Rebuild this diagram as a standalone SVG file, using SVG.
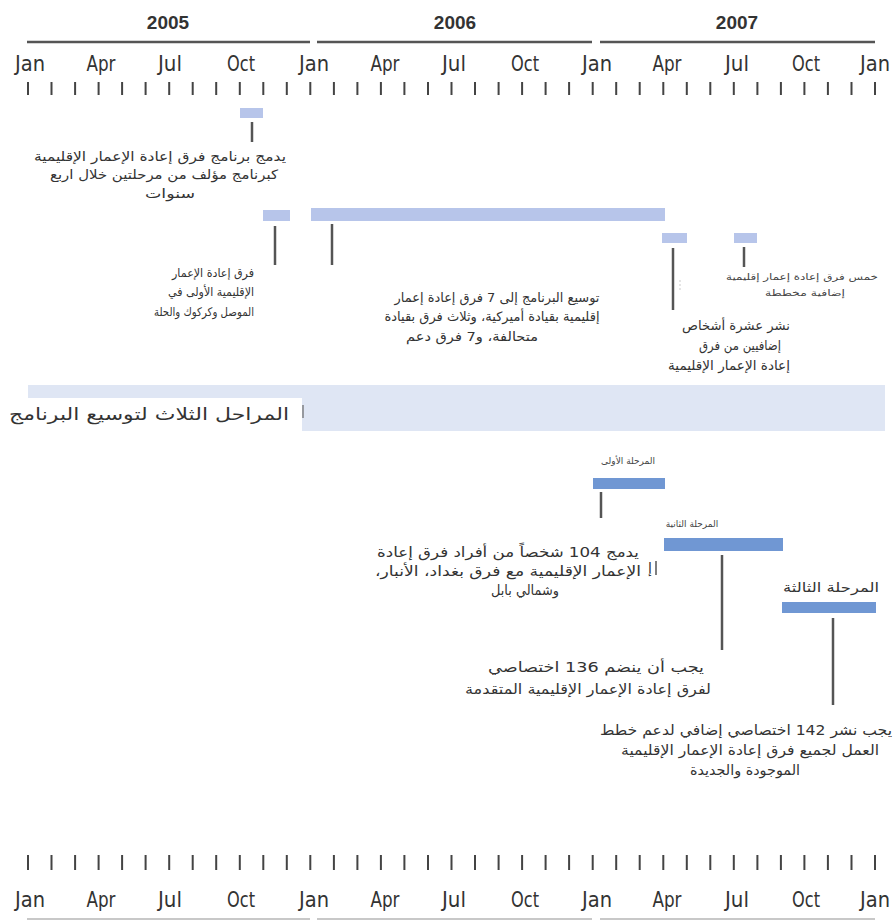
<svg xmlns="http://www.w3.org/2000/svg" width="895" height="920" viewBox="0 0 895 920">
<defs>
<style>
.yr{font-family:"Liberation Sans",Arial,sans-serif;font-weight:bold;font-size:19px;fill:#333;text-anchor:middle}
.mo{font-family:"Liberation Sans Narrow","DejaVu Sans Condensed","Liberation Sans",sans-serif;font-stretch:condensed;font-size:22px;fill:#333;text-anchor:middle}
.ar{font-family:"DejaVu Sans","Noto Sans",sans-serif;font-size:13px;fill:#333;text-anchor:middle;direction:rtl;unicode-bidi:embed}
.ars{font-family:"DejaVu Sans","Noto Sans",sans-serif;font-size:9px;fill:#444;text-anchor:middle;direction:rtl;unicode-bidi:embed}
.lt{fill:#b7c5ea}
.md{fill:#7097d3}
.ln{stroke:#555;stroke-width:2.5;fill:none}
.tk{stroke:#444;stroke-width:2;fill:none}
</style>
</defs>
<rect width="895" height="920" fill="#fff"/>

<g id="axis-top">
<text class="yr" x="168" y="29">2005</text>
<text class="yr" x="455" y="29">2006</text>
<text class="yr" x="737" y="29">2007</text>
<path class="ln" d="M27 42H310M317 42H592M600 42H875"/>
<text class="mo" x="30" y="71" textLength="30" lengthAdjust="spacingAndGlyphs">Jan</text>
<text class="mo" x="101" y="71" textLength="29" lengthAdjust="spacingAndGlyphs">Apr</text>
<text class="mo" x="170" y="71" textLength="24" lengthAdjust="spacingAndGlyphs">Jul</text>
<text class="mo" x="241" y="71" textLength="28" lengthAdjust="spacingAndGlyphs">Oct</text>
<text class="mo" x="314" y="71" textLength="30" lengthAdjust="spacingAndGlyphs">Jan</text>
<text class="mo" x="385" y="71" textLength="29" lengthAdjust="spacingAndGlyphs">Apr</text>
<text class="mo" x="454" y="71" textLength="24" lengthAdjust="spacingAndGlyphs">Jul</text>
<text class="mo" x="525" y="71" textLength="28" lengthAdjust="spacingAndGlyphs">Oct</text>
<text class="mo" x="597" y="71" textLength="30" lengthAdjust="spacingAndGlyphs">Jan</text>
<text class="mo" x="667" y="71" textLength="29" lengthAdjust="spacingAndGlyphs">Apr</text>
<text class="mo" x="737" y="71" textLength="24" lengthAdjust="spacingAndGlyphs">Jul</text>
<text class="mo" x="806" y="71" textLength="28" lengthAdjust="spacingAndGlyphs">Oct</text>
<text class="mo" x="875" y="71" textLength="30" lengthAdjust="spacingAndGlyphs">Jan</text>
<path class="tk" d="M28 82v13M51.5 82v13M75.1 82v13M98.6 82v13M122.1 82v13M145.6 82v13M169.2 82v13M192.7 82v13M216.2 82v13M239.8 82v13M263.3 82v13M286.8 82v13M310.3 82v13M333.9 82v13M357.4 82v13M380.9 82v13M404.4 82v13M428 82v13M451.5 82v13M475 82v13M498.6 82v13M522.1 82v13M545.6 82v13M569.1 82v13M592.7 82v13M616.2 82v13M639.7 82v13M663.3 82v13M686.8 82v13M710.3 82v13M733.8 82v13M757.4 82v13M780.9 82v13M804.4 82v13M827.9 82v13M851.5 82v13M875 82v13"/>
</g>

<g id="axis-bottom">
<path class="tk" d="M28 855v15M51.5 855v15M75.1 855v15M98.6 855v15M122.1 855v15M145.6 855v15M169.2 855v15M192.7 855v15M216.2 855v15M239.8 855v15M263.3 855v15M286.8 855v15M310.3 855v15M333.9 855v15M357.4 855v15M380.9 855v15M404.4 855v15M428 855v15M451.5 855v15M475 855v15M498.6 855v15M522.1 855v15M545.6 855v15M569.1 855v15M592.7 855v15M616.2 855v15M639.7 855v15M663.3 855v15M686.8 855v15M710.3 855v15M733.8 855v15M757.4 855v15M780.9 855v15M804.4 855v15M827.9 855v15M851.5 855v15M875 855v15"/>
<text class="mo" x="30" y="907" textLength="30" lengthAdjust="spacingAndGlyphs">Jan</text>
<text class="mo" x="101" y="907" textLength="29" lengthAdjust="spacingAndGlyphs">Apr</text>
<text class="mo" x="170" y="907" textLength="24" lengthAdjust="spacingAndGlyphs">Jul</text>
<text class="mo" x="241" y="907" textLength="28" lengthAdjust="spacingAndGlyphs">Oct</text>
<text class="mo" x="314" y="907" textLength="30" lengthAdjust="spacingAndGlyphs">Jan</text>
<text class="mo" x="385" y="907" textLength="29" lengthAdjust="spacingAndGlyphs">Apr</text>
<text class="mo" x="454" y="907" textLength="24" lengthAdjust="spacingAndGlyphs">Jul</text>
<text class="mo" x="525" y="907" textLength="28" lengthAdjust="spacingAndGlyphs">Oct</text>
<text class="mo" x="597" y="907" textLength="30" lengthAdjust="spacingAndGlyphs">Jan</text>
<text class="mo" x="667" y="907" textLength="29" lengthAdjust="spacingAndGlyphs">Apr</text>
<text class="mo" x="737" y="907" textLength="24" lengthAdjust="spacingAndGlyphs">Jul</text>
<text class="mo" x="806" y="907" textLength="28" lengthAdjust="spacingAndGlyphs">Oct</text>
<text class="mo" x="875" y="907" textLength="30" lengthAdjust="spacingAndGlyphs">Jan</text>
<path d="M27 919H310M317 919H592M600 919H875" stroke="#c8c8c8" stroke-width="2" fill="none"/>
</g>

<g id="band">
<rect x="28" y="385" width="857" height="46" fill="#dfe6f4"/>
<rect x="0" y="398" width="302" height="33" fill="#fff"/>
<path d="M303 405v13" stroke="#666" stroke-width="1.2"/>
<text class="ar" x="149" y="420" style="font-size:17px" textLength="280" lengthAdjust="spacingAndGlyphs">المراحل الثلاث لتوسيع البرنامج</text>
</g>

<g id="node-merge">
<rect class="lt" x="240" y="108" width="23" height="10"/>
<text class="ar" x="160" y="161" textLength="252" lengthAdjust="spacingAndGlyphs">يدمج برنامج فرق إعادة الإعمار الإقليمية</text>
<text class="ar" x="164" y="179" textLength="228" lengthAdjust="spacingAndGlyphs">كبرنامج مؤلف من مرحلتين خلال اربع</text>
<text class="ar" x="170" y="198" textLength="50" lengthAdjust="spacingAndGlyphs">سنوات</text>
</g>

<g id="node-first-prts">
<rect class="lt" x="263" y="210" width="27" height="11"/>
<text class="ar" x="213" y="277" style="font-size:12px" textLength="82" lengthAdjust="spacingAndGlyphs">فرق إعادة الإعمار</text>
<text class="ar" x="211" y="296" style="font-size:12px" textLength="86" lengthAdjust="spacingAndGlyphs">الإقليمية الأولى في</text>
<text class="ar" x="204" y="316" style="font-size:12px" textLength="100" lengthAdjust="spacingAndGlyphs">الموصل وكركوك والحلة</text>
</g>

<g id="node-expand">
<rect class="lt" x="311" y="208" width="354" height="13"/>
<text class="ar" x="497" y="302" textLength="205" lengthAdjust="spacingAndGlyphs">توسيع البرنامج إلى 7 فرق إعادة إعمار</text>
<text class="ar" x="492" y="321" textLength="215" lengthAdjust="spacingAndGlyphs">إقليمية بقيادة أميركية، وثلاث فرق بقيادة</text>
<text class="ar" x="472" y="341" textLength="132" lengthAdjust="spacingAndGlyphs">متحالفة، و7 فرق دعم</text>
</g>

<g id="node-ten">
<rect class="lt" x="662" y="233" width="25" height="10"/>
<text class="ar" x="736" y="330" textLength="108" lengthAdjust="spacingAndGlyphs">نشر عشرة أشخاص</text>
<text class="ar" x="740" y="350" textLength="82" lengthAdjust="spacingAndGlyphs">إضافيين من فرق</text>
<text class="ar" x="729" y="370" textLength="122" lengthAdjust="spacingAndGlyphs">إعادة الإعمار الإقليمية</text>
</g>

<g id="node-five">
<rect class="lt" x="734" y="233" width="23" height="10"/>
<text class="ars" x="802" y="280" textLength="152" lengthAdjust="spacingAndGlyphs">خمس فرق إعادة إعمار إقليمية</text>
<text class="ars" x="805" y="296" textLength="80" lengthAdjust="spacingAndGlyphs">إضافية مخططة</text>
</g>

<g id="node-phase1">
<text class="ars" x="628" y="464">المرحلة الأولى</text>
<rect class="md" x="593" y="478" width="72" height="11"/>
</g>

<g id="node-104">
<text class="ar" x="508" y="557" style="font-size:14px" textLength="262" lengthAdjust="spacingAndGlyphs">يدمج 104 شخصاً من أفراد فرق إعادة</text>
<text class="ar" x="508" y="576" style="font-size:14px" textLength="266" lengthAdjust="spacingAndGlyphs">الإعمار الإقليمية مع فرق بغداد، الأنبار،</text>
<text class="ar" x="525" y="595" style="font-size:14px" textLength="68" lengthAdjust="spacingAndGlyphs">وشمالي بابل</text>
<text class="ar" x="650" y="573" style="font-size:14px">إ</text>
</g>

<g id="node-phase2">
<text class="ars" x="692" y="527">المرحلة الثانية</text>
<rect class="md" x="664" y="538" width="119" height="13"/>
</g>

<g id="node-136">
<text class="ar" x="596" y="672" style="font-size:14px" textLength="216" lengthAdjust="spacingAndGlyphs">يجب أن ينضم 136 اختصاصي</text>
<text class="ar" x="588" y="694" style="font-size:14px" textLength="246" lengthAdjust="spacingAndGlyphs">لفرق إعادة الإعمار الإقليمية المتقدمة</text>
</g>

<g id="node-phase3">
<text class="ar" x="831" y="592" style="font-size:13px" textLength="96" lengthAdjust="spacingAndGlyphs">المرحلة الثالثة</text>
<rect class="md" x="782" y="602" width="94" height="11"/>
</g>

<g id="node-142">
<text class="ar" x="746" y="735" style="font-size:14px" textLength="292" lengthAdjust="spacingAndGlyphs">يجب نشر 142 اختصاصي إضافي لدعم خطط</text>
<text class="ar" x="750" y="755" style="font-size:14px" textLength="258" lengthAdjust="spacingAndGlyphs">العمل لجميع فرق إعادة الإعمار الإقليمية</text>
<text class="ar" x="745" y="775" style="font-size:14px" textLength="110" lengthAdjust="spacingAndGlyphs">الموجودة والجديدة</text>
</g>

<g id="connectors">
<path class="ln" d="M252 122V142"/>
<path class="ln" d="M275 226V265"/>
<path class="ln" d="M332 224V265"/>
<path class="ln" d="M673 248V310"/>
<path class="ln" d="M744 247V267"/>
<path d="M680 280V292" stroke="#ddd" stroke-width="1.5" stroke-dasharray="2 2"/>
<path class="ln" d="M601 492V518"/>
<path class="ln" d="M722 555V650"/>
<path class="ln" d="M833 618V705"/>
<path d="M656 561V575" stroke="#555" stroke-width="1.5"/>
</g>
</svg>
